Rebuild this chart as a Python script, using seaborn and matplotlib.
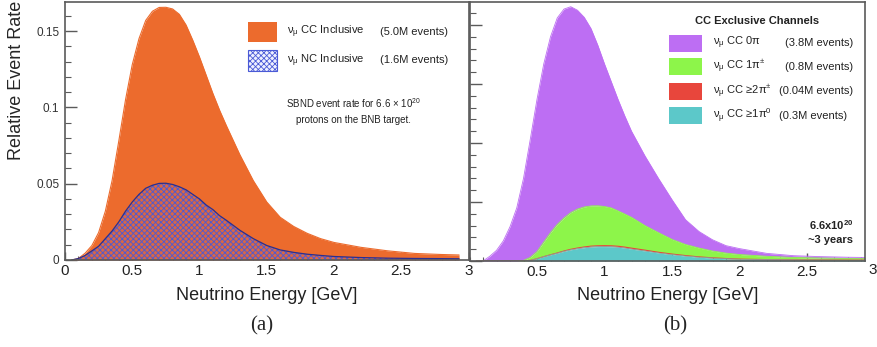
import numpy as np
import pandas as pd
import matplotlib
matplotlib.use("Agg")
import matplotlib.pyplot as plt
import seaborn as sns
from matplotlib.patches import Rectangle
from matplotlib.ticker import MultipleLocator, FuncFormatter

# ---------------- data ----------------
energy = [0.05, 0.1, 0.15, 0.2, 0.25, 0.3, 0.35, 0.4, 0.45, 0.5, 0.55, 0.6, 0.65,
          0.7, 0.75, 0.8, 0.85, 0.9, 0.95, 1.0, 1.05, 1.1, 1.15, 1.2, 1.3, 1.4,
          1.5, 1.6, 1.7, 1.8, 1.9, 2.0, 2.2, 2.4, 2.6, 2.8, 2.93]

cc_inclusive = [0.0, 0.001, 0.0045, 0.0095, 0.018, 0.032, 0.052, 0.078, 0.105, 0.128,
                0.145, 0.157, 0.163, 0.1655, 0.1656, 0.1645, 0.161, 0.154, 0.144, 0.133,
                0.121, 0.109, 0.098, 0.088, 0.069, 0.052, 0.038, 0.028, 0.022, 0.0175,
                0.014, 0.0115, 0.0083, 0.006, 0.0043, 0.0036, 0.0033]

nc_inclusive = [0.0, 0.001, 0.003, 0.006, 0.009, 0.014, 0.019, 0.025, 0.032, 0.038,
                0.043, 0.047, 0.049, 0.0502, 0.0503, 0.0495, 0.048, 0.046, 0.043, 0.040,
                0.036, 0.033, 0.029, 0.026, 0.0195, 0.014, 0.0095, 0.0066, 0.005, 0.0038,
                0.003, 0.0023, 0.0016, 0.0012, 0.001, 0.0009, 0.0008]

# CC exclusive channels (stacked in the plot)
cc_0pi = [0.0, 0.0, 0.004, 0.009, 0.017, 0.029, 0.045, 0.0695, 0.100, 0.129,
          0.151, 0.166, 0.175, 0.177, 0.1745, 0.1685, 0.1607, 0.1503, 0.1362, 0.1208,
          0.107, 0.0945, 0.0832, 0.073, 0.059, 0.046, 0.0337, 0.021, 0.014, 0.0095,
          0.0063, 0.005, 0.0025, 0.0015, 0.0012, 0.0011, 0.001]
cc_1pipm = [0.0, 0.0, 0.0, 0.0, 0.0, 0.0, 0.0, 0.0005, 0.0025, 0.006,
            0.0123, 0.0187, 0.0242, 0.028, 0.0311, 0.033, 0.0339, 0.0341, 0.0339, 0.0332,
            0.0321, 0.030, 0.028, 0.0261, 0.0208, 0.0166, 0.0124, 0.0094, 0.0075, 0.0058,
            0.0046, 0.0039, 0.0028, 0.002, 0.0016, 0.0013, 0.0012]
cc_2pipm = [0.0, 0.0, 0.0, 0.0, 0.0, 0.0, 0.0, 0.0, 0.0, 0.0,
            0.0, 0.0001, 0.0002, 0.0003, 0.0004, 0.0005, 0.0006, 0.0007, 0.0007, 0.0008,
            0.0008, 0.0008, 0.0008, 0.0008, 0.0007, 0.0006, 0.0005, 0.0004, 0.0003, 0.0002,
            0.0002, 0.0001, 0.0001, 0.0001, 0.0001, 0.0001, 0.0001]
cc_1pi0 = [0.0, 0.0, 0.0, 0.0, 0.0, 0.0, 0.0, 0.0, 0.0005, 0.002,
           0.0037, 0.0052, 0.0066, 0.0082, 0.0095, 0.0105, 0.0113, 0.0119, 0.0122, 0.0122,
           0.0121, 0.0117, 0.011, 0.0101, 0.0085, 0.0068, 0.0054, 0.0042, 0.0032, 0.0025,
           0.0019, 0.0015, 0.0011, 0.0009, 0.0008, 0.0007, 0.0007]

inclusive_labels = [r"ν$_{\mu}$ CC Inclusive", r"ν$_{\mu}$ NC Inclusive"]
inclusive_counts = ["(5.0M events)", "(1.6M events)"]
exclusive_labels = [r"ν$_{\mu}$ CC 0π", r"ν$_{\mu}$ CC 1π$^{\pm}$",
                    r"ν$_{\mu}$ CC ≥2π$^{\pm}$", r"ν$_{\mu}$ CC ≥1π$^{0}$"]
exclusive_counts = ["(3.8M events)", "(0.8M events)", "(0.04M events)", "(0.3M events)"]
left_xticks = [0, 0.5, 1, 1.5, 2, 2.5, 3]
right_xticks = [0.5, 1, 1.5, 2, 2.5]
left_yticks = [0, 0.05, 0.1, 0.15]

# ---------------- style ----------------
sns.set_theme(style="ticks")
plt.rcParams["font.family"] = ["Liberation Sans", "DejaVu Sans"]
plt.rcParams["mathtext.fontset"] = "custom"
plt.rcParams["mathtext.rm"] = "Liberation Sans"
plt.rcParams["mathtext.it"] = "Liberation Sans"
plt.rcParams["mathtext.bf"] = "Liberation Sans:bold"
plt.rcParams["hatch.linewidth"] = 0.6

c_orange = "#EC6B2D"
c_blue = "#4a5ad6"
c_blue_edge = "#2b2f8f"
c_purple = "#BD6EF3"
c_green = "#8DF54A"
c_red = "#E8463C"
c_cyan = "#5CC8C9"
spine_c = "#5a5a5a"

df = pd.DataFrame({"E": energy, "cc": cc_inclusive, "nc": nc_inclusive,
                   "c0": cc_0pi, "c1": cc_1pipm, "c2": cc_2pipm, "cp0": cc_1pi0})
df["top_cp0"] = df["cp0"]
df["top_c2"] = df["top_cp0"] + df["c2"]
df["top_c1"] = df["top_c2"] + df["c1"]
df["top_c0"] = df["top_c1"] + df["c0"]

fig = plt.figure(figsize=(8.77, 3.47), dpi=100)
W, H = 877.0, 347.0
ax1 = fig.add_axes([65 / W, (H - 260) / H, (468.5 - 65) / W, 258 / H])
ax2 = fig.add_axes([469.5 / W, (H - 261) / H, (865 - 469.5) / W, 259 / H])

fmt = FuncFormatter(lambda v, p: "%g" % v)

# ---------------- left panel ----------------
ax1.fill_between(df["E"], 0, df["cc"], color=c_orange, lw=0)
sns.lineplot(data=df, x="E", y="cc", ax=ax1, color=c_orange, lw=0.8)
ax1.fill_between(df["E"], 0, df["nc"], facecolor="#b0607a", alpha=0.35, lw=0)
ax1.fill_between(df["E"], 0, df["nc"], facecolor="none", edgecolor=c_blue,
                 hatch="xxxxxx", lw=0)
sns.lineplot(data=df, x="E", y="nc", ax=ax1, color=c_blue_edge, lw=0.9)
ax1.set_xlim(0, 3)
ax1.set_ylim(0, 258 / 1526)
ax1.set_xticks(left_xticks)
ax1.set_yticks(left_yticks)
ax1.xaxis.set_minor_locator(MultipleLocator(0.1))
ax1.yaxis.set_minor_locator(MultipleLocator(0.01))
ax1.xaxis.set_major_formatter(fmt)
ax1.yaxis.set_major_formatter(fmt)
ax1.set_xlabel("Neutrino Energy [GeV]", fontsize=13, labelpad=6)
ax1.set_ylabel("")
fig.text(16.5 / W, 1 - 1 / H, "Relative Event Rate", rotation=90, ha="center",
         va="top", fontsize=13)

# legend (left)
leg_rows_y = [(0.845, 0.9225), (0.7326, 0.814)]
ax1.add_patch(Rectangle((0.4535, 0.845), 0.072, 0.0775, transform=ax1.transAxes,
                        facecolor=c_orange, edgecolor="none"))
ax1.add_patch(Rectangle((0.4535, 0.7326), 0.072, 0.0814, transform=ax1.transAxes,
                        facecolor="#eef0ff", edgecolor=c_blue, hatch="xxxxxx", lw=0.8))
for (y0, y1), lab, cnt in zip(leg_rows_y, inclusive_labels, inclusive_counts):
    yc = (y0 + y1) / 2
    ax1.text(0.550, yc, lab, transform=ax1.transAxes, fontsize=8, va="center",
             color="#222222")
    ax1.text(0.780, yc, cnt, transform=ax1.transAxes, fontsize=8, va="center",
             color="#222222")
ax1.text(0.715, (260 - 103) / 258, r"SBND event rate for 6.6 × 10$^{20}$",
         transform=ax1.transAxes, fontsize=7, ha="center", va="center", color="#222222")
ax1.text(0.715, (260 - 120) / 258, "protons on the BNB target.",
         transform=ax1.transAxes, fontsize=7, ha="center", va="center", color="#222222")

# ---------------- right panel ----------------
ax2.fill_between(df["E"], df["top_c1"], df["top_c0"], color=c_purple, lw=0)
ax2.fill_between(df["E"], df["top_c2"], df["top_c1"], color=c_green, lw=0)
ax2.fill_between(df["E"], df["top_cp0"], df["top_c2"], color=c_red, lw=0)
ax2.fill_between(df["E"], 0, df["top_cp0"], color=c_cyan, lw=0)
sns.lineplot(data=df, x="E", y="top_c0", ax=ax2, color=c_purple, lw=0.6)
sns.lineplot(data=df, x="E", y="top_c1", ax=ax2, color=c_green, lw=0.6)
sns.lineplot(data=df, x="E", y="top_c2", ax=ax2, color=c_red, lw=0.8)
sns.lineplot(data=df, x="E", y="top_cp0", ax=ax2, color=c_cyan, lw=0.4)
ax2.set_xlim(0, (865 - 469.5) / 135)
ax2.set_ylim(0, 259 / 59 * 0.05)
ax2.set_xticks(right_xticks)
ax2.xaxis.set_minor_locator(MultipleLocator(0.1))
ax2.yaxis.set_major_locator(MultipleLocator(0.05))
ax2.yaxis.set_minor_locator(MultipleLocator(0.01))
ax2.xaxis.set_major_formatter(fmt)
ax2.set_yticklabels([])
ax2.set_ylabel("")
ax2.set_xlabel("Neutrino Energy [GeV]", fontsize=13, labelpad=6)
fig.text(876.5 / W, 1 - 263 / H, "3", fontsize=11, ha="right", va="top",
         color="#222222")

# legend (right)
ax2.text(0.727, 0.927, "CC Exclusive Channels", transform=ax2.transAxes, fontsize=8,
         fontweight="bold", ha="center", va="center", color="#222222")
row_centers = [43.3, 66.7, 91.3, 115.7]
count_x = [785, 785, 779, 779]
for yc, col, lab, cnt, cx in zip(row_centers, [c_purple, c_green, c_red, c_cyan],
                                 exclusive_labels, exclusive_counts, count_x):
    ya = (261 - yc) / 259
    ax2.add_patch(Rectangle((0.5044, ya - 0.032), 0.0835, 0.064, transform=ax2.transAxes,
                            facecolor=col, edgecolor="none"))
    ax2.text(0.6166, ya, lab, transform=ax2.transAxes, fontsize=8, va="center",
             color="#222222")
    ax2.text((cx - 469.5) / 395.5, ya, cnt, transform=ax2.transAxes, fontsize=8,
             va="center", color="#222222")
ax2.text(0.97, 0.139, r"6.6x10$^{\mathbf{20}}$", transform=ax2.transAxes, fontsize=8,
         fontweight="bold", ha="right", va="center", color="#222222")
ax2.text(0.97, 0.081, "~3 years", transform=ax2.transAxes, fontsize=8,
         fontweight="bold", ha="right", va="center", color="#222222")

# ---------------- axes styling ----------------
for ax in (ax1, ax2):
    for s in ax.spines.values():
        s.set_color(spine_c)
        s.set_linewidth(1.2)
        s.set_visible(True)
    ax.tick_params(axis="x", which="major", direction="in", length=6, width=1,
                   color=spine_c, labelsize=11, pad=3, labelcolor="#222222")
    ax.tick_params(axis="x", which="minor", direction="in", length=3, width=0.8,
                   color=spine_c)
    ax.tick_params(axis="y", which="major", direction="in", length=8.5, width=1,
                   color=spine_c, labelsize=8.5, pad=4, labelcolor="#333333")
    ax.tick_params(axis="y", which="minor", direction="in", length=4.3, width=0.8,
                   color=spine_c)
    ax.xaxis.label.set_color("#222222")

fig.text(262 / W, 1 - 326 / H, "(a)", fontsize=15, family="Liberation Serif",
         ha="center", va="center")
fig.text(675 / W, 1 - 326 / H, "(b)", fontsize=15, family="Liberation Serif",
         ha="center", va="center")

fig.savefig("out.png", dpi=100)
